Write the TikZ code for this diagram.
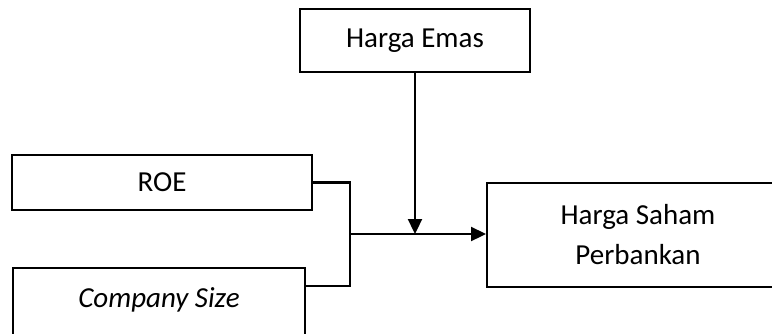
\documentclass[tikz,border=0pt]{standalone}
\usepackage{fontspec}
\setmainfont{Carlito}
\usetikzlibrary{arrows.meta}
\tikzset{
  box/.style={draw=black, line width=2pt, rectangle, inner sep=0pt,
    font=\fontsize{29}{40}\selectfont, align=center},
  conn/.style={draw=black, line width=2.3pt},
  arr/.style={conn, -{Triangle[length=15pt,width=14pt]}}
}
\begin{document}
\begin{tikzpicture}[x=1pt,y=-1pt]
\useasboundingbox (0,0) rectangle (772,333);
\clip (0,0) rectangle (772,333);
\node[box, minimum width=230pt, minimum height=63pt] (emas) at (415,40.5) {Harga Emas};
\node[box, minimum width=300pt, minimum height=55pt] (roe) at (162,182.5) {ROE};
\node[box, minimum width=292pt, minimum height=78pt, anchor=north west,
  text height=20pt, text depth=20pt] (size) at (12,267) {\itshape Company Size};
\node[box, minimum width=302pt, minimum height=104pt, anchor=north west] (saham) at (486,182) {Harga Saham\\Perbankan};
\coordinate (j) at (350,234);
\coordinate (m) at (emas.south |- j);
\draw[conn] (roe.east) -| (j) |- ([yshift=-19pt]size.north east);
\draw[arr] (j) -- (saham.west |- j);
\draw[arr] (emas.south) -- (m);
\end{tikzpicture}
\end{document}
